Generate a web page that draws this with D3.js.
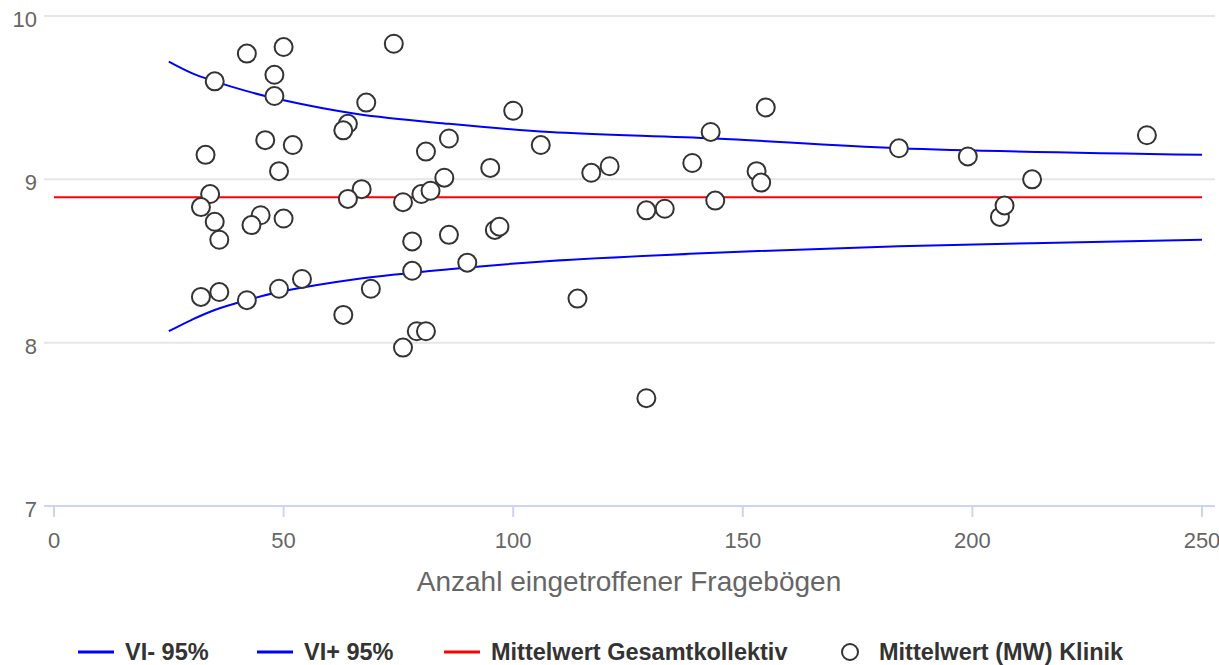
<!DOCTYPE html>
<html><head><meta charset="utf-8">
<script src="https://cdn.jsdelivr.net/npm/d3@7"></script>
<style>
html,body{margin:0;padding:0;background:#fff;}
svg{display:block;font-family:"Liberation Sans",Arial,sans-serif;}
</style></head>
<body><svg id="chart" width="1219" height="665"></svg>
<script>
// ---- data ----
const xTicks = [0, 50, 100, 150, 200, 250];
const yTicks = [7, 8, 9, 10];
const xTitle = "Anzahl eingetroffener Fragebögen";
const seriesNames = ["VI- 95%", "VI+ 95%", "Mittelwert Gesamtkollektiv", "Mittelwert (MW) Klinik"];

const ciN     = [25, 30, 35, 42, 49, 66, 86, 108, 144, 184, 250];
const ciLower = [8.07, 8.14, 8.20, 8.26, 8.31, 8.39, 8.45, 8.50, 8.55, 8.59, 8.63];
const ciUpper = [9.72, 9.65, 9.60, 9.54, 9.49, 9.40, 9.34, 9.29, 9.25, 9.19, 9.15];

const meanN = [0, 250];
const meanV = [8.89, 8.89];

const clinicN = [35, 42, 50, 48, 48, 74, 68, 64, 63, 33, 46, 52, 49, 34, 32, 35, 36, 45, 43, 50, 67, 64,
                 32, 36, 42, 49, 54, 63, 69, 76, 79, 81, 78, 78, 86, 90, 76, 80, 82, 85, 81, 86, 95, 96, 97,
                 100, 106, 114, 117, 121, 129, 133, 129, 139, 143, 144, 153, 154, 155, 184, 199, 206, 207, 213, 238];
const clinicV = [9.60, 9.77, 9.81, 9.64, 9.51, 9.83, 9.47, 9.34, 9.30, 9.15, 9.24, 9.21, 9.05, 8.91, 8.83, 8.74, 8.63, 8.78, 8.72, 8.76, 8.94, 8.88,
                 8.28, 8.31, 8.26, 8.33, 8.39, 8.17, 8.33, 7.97, 8.07, 8.07, 8.44, 8.62, 8.66, 8.49, 8.86, 8.91, 8.93, 9.01, 9.17, 9.25, 9.07, 8.69, 8.71,
                 9.42, 9.21, 8.27, 9.04, 9.08, 8.81, 8.82, 7.66, 9.10, 9.29, 8.87, 9.05, 8.98, 9.44, 9.19, 9.14, 8.77, 8.84, 9.00, 9.27];

// ---- layout ----
const svg = d3.select("#chart");
const plotLeft = 44, plotRight = 1215;
const x = d3.scaleLinear().domain([0, 250]).range([54, 1202]);
const y = d3.scaleLinear().domain([7, 10]).range([506, 16]);

// grid lines
svg.append("g").selectAll("line").data(yTicks.filter(t => t !== 7)).join("line")
  .attr("x1", plotLeft).attr("x2", plotRight)
  .attr("y1", d => y(d)).attr("y2", d => y(d))
  .attr("stroke", "#e6e6e6").attr("stroke-width", 2);

// x axis line + ticks
svg.append("line").attr("x1", plotLeft).attr("x2", plotRight)
  .attr("y1", y(7)).attr("y2", y(7)).attr("stroke", "#ccd6eb").attr("stroke-width", 2);
svg.append("g").selectAll("line").data(xTicks).join("line")
  .attr("x1", d => x(d)).attr("x2", d => x(d))
  .attr("y1", y(7)).attr("y2", y(7) + 11)
  .attr("stroke", "#ccd6eb").attr("stroke-width", 2);

// x tick labels
svg.append("g").selectAll("text").data(xTicks).join("text")
  .attr("x", d => x(d)).attr("y", 548)
  .attr("text-anchor", "middle").attr("fill", "#666").attr("font-size", 22)
  .text(d => d);

// y tick labels
svg.append("g").selectAll("text").data(yTicks).join("text")
  .attr("x", 37).attr("y", d => y(d) + 11)
  .attr("text-anchor", "end").attr("fill", "#666").attr("font-size", 22)
  .text(d => d);

// axis title
svg.append("text").attr("x", 629).attr("y", 591)
  .attr("text-anchor", "middle").attr("fill", "#666").attr("font-size", 28)
  .text(xTitle);

// lines
const line = d3.line().x(d => x(d[0])).y(d => y(d[1])).curve(d3.curveCatmullRom);
svg.append("path").datum(ciN.map((n, i) => [n, ciLower[i]]))
  .attr("d", line).attr("fill", "none").attr("stroke", "#0000ff").attr("stroke-width", 2);
svg.append("path").datum(ciN.map((n, i) => [n, ciUpper[i]]))
  .attr("d", line).attr("fill", "none").attr("stroke", "#0000ff").attr("stroke-width", 2);
svg.append("path").datum(meanN.map((n, i) => [n, meanV[i]]))
  .attr("d", d3.line().x(d => x(d[0])).y(d => y(d[1])))
  .attr("fill", "none").attr("stroke", "#ff0000").attr("stroke-width", 2);

// points
svg.append("g").selectAll("circle").data(clinicN.map((n, i) => [n, clinicV[i]])).join("circle")
  .attr("cx", d => x(d[0])).attr("cy", d => y(d[1])).attr("r", 9)
  .attr("fill", "#fff").attr("stroke", "#333").attr("stroke-width", 2);

// legend
const legendY = 652;
const legendItems = [
  {name: seriesNames[0], type: "line", color: "#0000ff", x: 78},
  {name: seriesNames[1], type: "line", color: "#0000ff", x: 257},
  {name: seriesNames[2], type: "line", color: "#ff0000", x: 444},
  {name: seriesNames[3], type: "circle", color: "#333", x: 832}
];
const lg = svg.append("g").selectAll("g").data(legendItems).join("g");
lg.filter(d => d.type === "line").append("line")
  .attr("x1", d => d.x).attr("x2", d => d.x + 36)
  .attr("y1", legendY).attr("y2", legendY)
  .attr("stroke", d => d.color).attr("stroke-width", 3);
lg.filter(d => d.type === "circle").append("circle")
  .attr("cx", d => d.x + 18).attr("cy", legendY).attr("r", 8)
  .attr("fill", "#fff").attr("stroke", "#333").attr("stroke-width", 2);
lg.append("text").attr("x", d => d.x + 47).attr("y", legendY + 8)
  .attr("fill", "#333").attr("font-weight", "bold").attr("font-size", 23.5)
  .text(d => d.name);
</script>
</body></html>
